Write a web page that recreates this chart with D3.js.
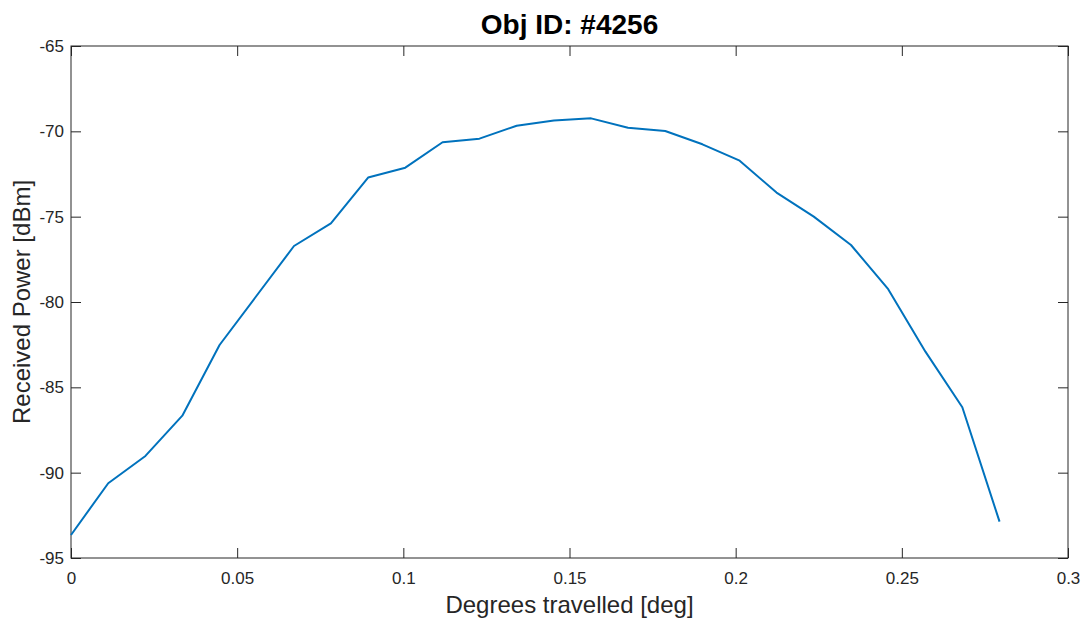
<!DOCTYPE html>
<html lang="en">
<head>
<meta charset="UTF-8">
<title>Obj ID: #4256</title>
<script src="https://d3js.org/d3.v7.min.js"></script>
<style>
  body { margin: 0; background: #fff; }
  text { font-family: "Liberation Sans", Arial, sans-serif; }
</style>
</head>
<body>
<script>
// degrees travelled (x) and received power in dBm (y)
var degrees = [0, 0.0112, 0.0224, 0.0335, 0.0447, 0.0559, 0.0671, 0.0782, 0.0894, 0.1006,
  0.1118, 0.1229, 0.1341, 0.1453, 0.1565, 0.1676, 0.1788, 0.19, 0.2012, 0.2123,
  0.2235, 0.2347, 0.2459, 0.2571, 0.2682, 0.2794];
var power = [-93.65, -90.62, -89.02, -86.66, -82.52, -79.62, -76.72, -75.39, -72.71, -72.13,
  -70.64, -70.43, -69.67, -69.37, -69.24, -69.79, -69.98, -70.76, -71.72, -73.59,
  -75.0, -76.66, -79.25, -82.91, -86.17, -92.87];

var xTicks = [0, 0.05, 0.1, 0.15, 0.2, 0.25, 0.3];
var yTicks = [-95, -90, -85, -80, -75, -70, -65];

var W = 1086, H = 622;
var margin = {top: 46, right: 18, bottom: 64, left: 71},
    w = W - margin.left - margin.right,
    h = H - margin.top - margin.bottom;

var svg = d3.select("body").append("svg")
  .attr("width", W)
  .attr("height", H);

var g = svg.append("g")
  .attr("transform", "translate(" + margin.left + "," + margin.top + ")");

var x = d3.scaleLinear().domain([0, 0.3]).range([0, w]);
var y = d3.scaleLinear().domain([-95, -65]).range([h, 0]);

var axisColor = "#262626";
var tickLen = 10;
var plain = function(d) { return String(d); };  // keep ascii hyphen like the original

function styleAxis(sel) {
  sel.select(".domain").remove();
  sel.selectAll(".tick line").attr("stroke", axisColor).attr("stroke-width", 1);
  sel.selectAll(".tick text").attr("fill", axisColor).style("font-size", "17px");
}

// bottom
g.append("g")
  .attr("transform", "translate(0," + h + ")")
  .call(d3.axisBottom(x).tickValues(xTicks).tickFormat(plain).tickSizeInner(-tickLen).tickSizeOuter(0).tickPadding(14))
  .call(styleAxis);
// top (ticks only)
g.append("g")
  .call(d3.axisTop(x).tickValues(xTicks).tickFormat("").tickSizeInner(-tickLen).tickSizeOuter(0))
  .call(styleAxis);
// left
g.append("g")
  .call(d3.axisLeft(y).tickValues(yTicks).tickFormat(plain).tickSizeInner(-tickLen).tickSizeOuter(0).tickPadding(7))
  .call(styleAxis);
// right (ticks only)
g.append("g")
  .attr("transform", "translate(" + w + ",0)")
  .call(d3.axisRight(y).tickValues(yTicks).tickFormat("").tickSizeInner(-tickLen).tickSizeOuter(0))
  .call(styleAxis);

// box
g.append("rect")
  .attr("x", 0).attr("y", 0)
  .attr("width", w).attr("height", h)
  .attr("fill", "none")
  .attr("stroke", axisColor)
  .attr("stroke-width", 1);

var data = degrees.map(function(d, i) { return {x: d, y: power[i]}; });

g.append("path")
  .datum(data)
  .attr("fill", "none")
  .attr("stroke", "#0072BD")
  .attr("stroke-width", 2)
  .attr("stroke-linejoin", "round")
  .attr("d", d3.line().x(function(d) { return x(d.x); }).y(function(d) { return y(d.y); }));

// labels
svg.append("text")
  .attr("x", margin.left + w / 2)
  .attr("y", 34)
  .attr("text-anchor", "middle")
  .style("font-size", "28px")
  .style("font-weight", "bold")
  .attr("fill", "#000")
  .text("Obj ID: #4256");

svg.append("text")
  .attr("x", margin.left + w / 2)
  .attr("y", 613)
  .attr("text-anchor", "middle")
  .style("font-size", "24px")
  .attr("fill", axisColor)
  .text("Degrees travelled [deg]");

svg.append("text")
  .attr("transform", "translate(30," + (margin.top + h / 2) + ") rotate(-90)")
  .attr("text-anchor", "middle")
  .style("font-size", "24px")
  .attr("fill", axisColor)
  .text("Received Power [dBm]");
</script>
</body>
</html>
